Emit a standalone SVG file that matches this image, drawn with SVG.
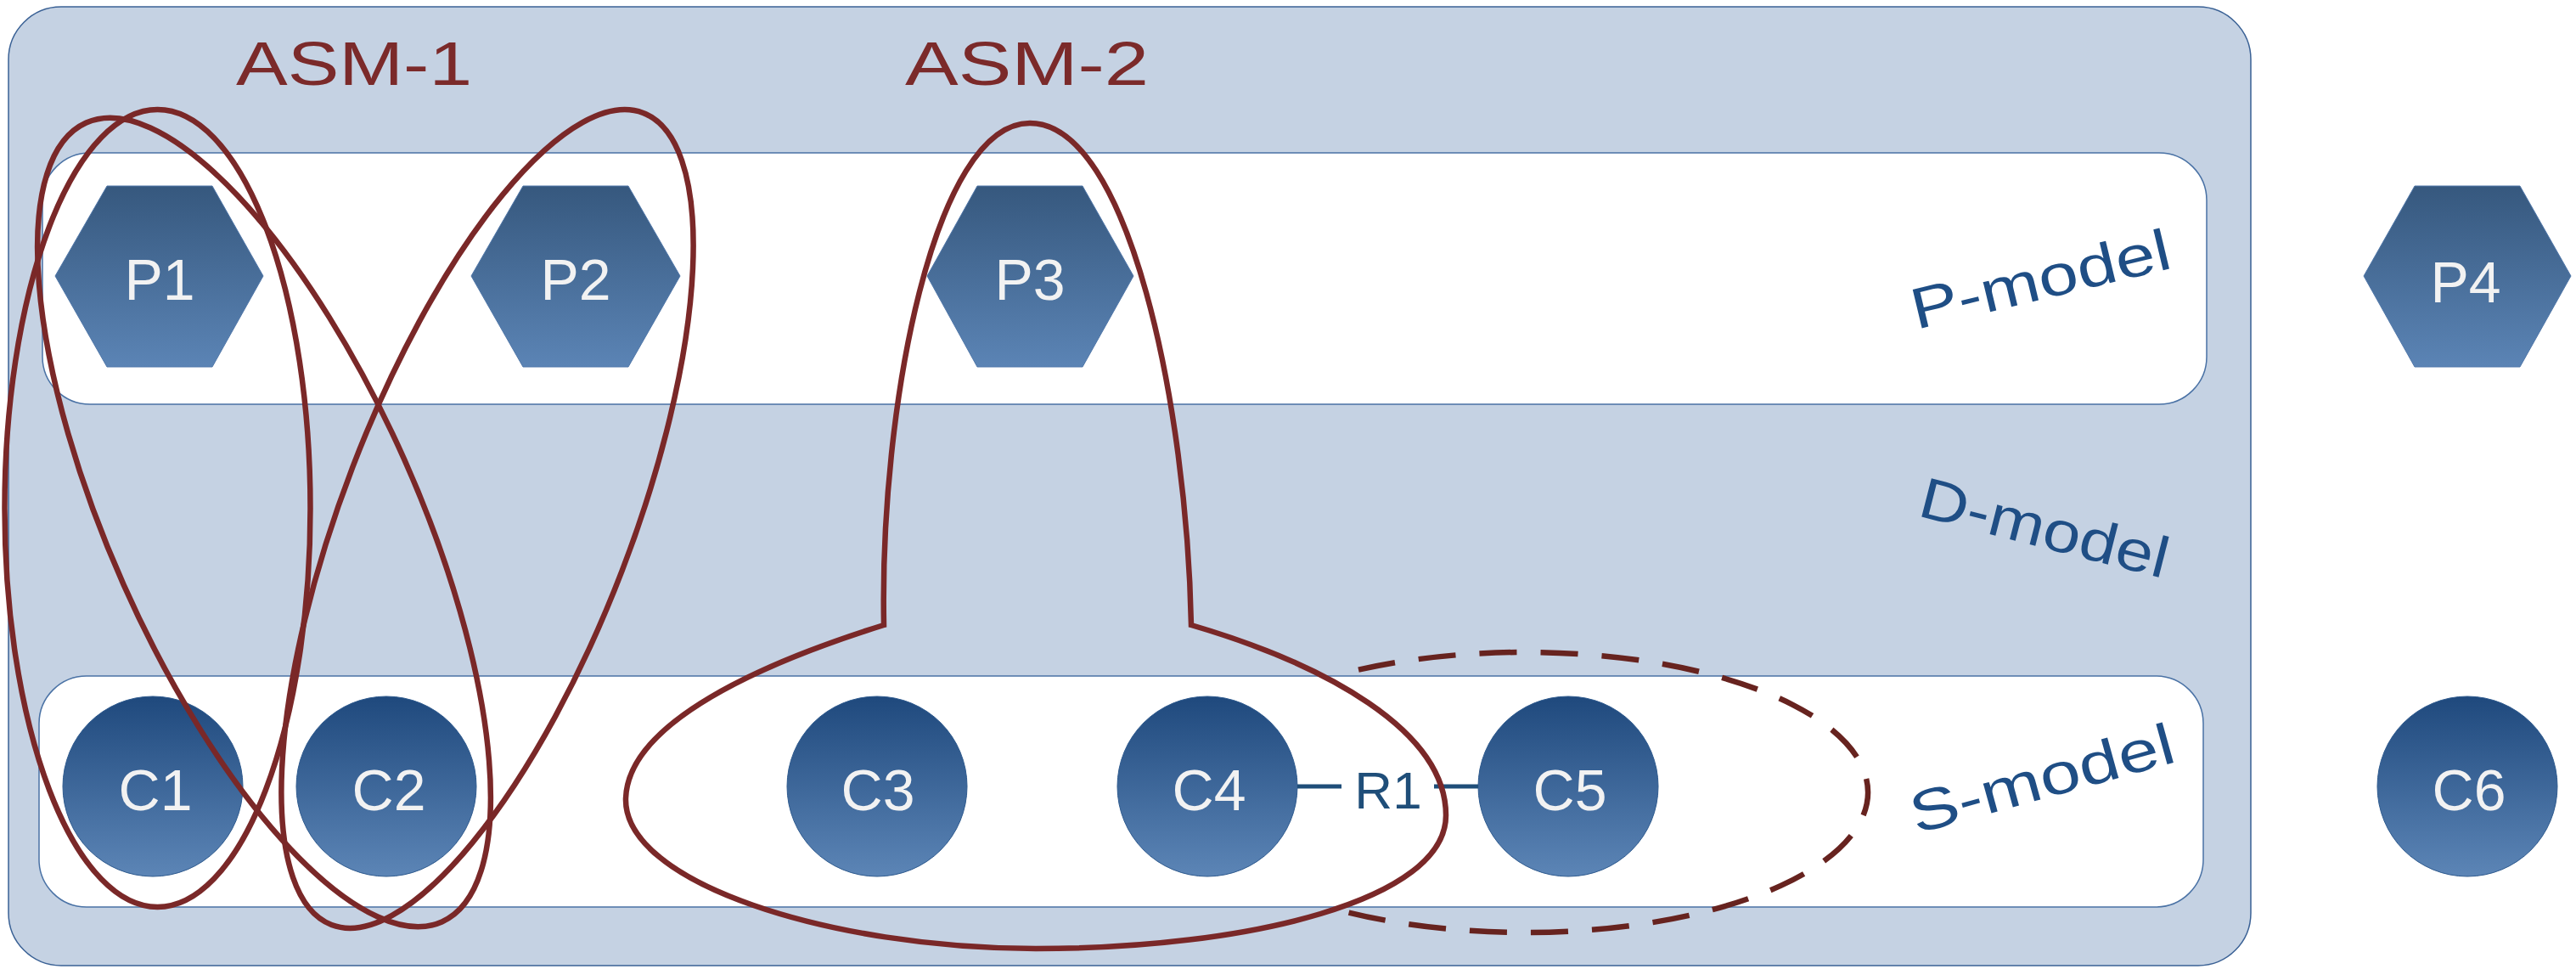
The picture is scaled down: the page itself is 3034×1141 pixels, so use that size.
<svg xmlns="http://www.w3.org/2000/svg" width="3034" height="1141" viewBox="0 0 3034 1141">
  <defs>
    <linearGradient id="gHex" x1="0" y1="0" x2="0" y2="1">
      <stop offset="0" stop-color="#36587E"/>
      <stop offset="1" stop-color="#5B84B5"/>
    </linearGradient>
    <linearGradient id="gCir" x1="0" y1="0" x2="0" y2="1">
      <stop offset="0" stop-color="#1F497D"/>
      <stop offset="1" stop-color="#5C85B6"/>
    </linearGradient>
    <style>
      .panel { fill: #C5D2E3; stroke: #3A6195; stroke-width: 1.5; }
      .band { fill: #FFFFFF; stroke: #4A72A5; stroke-width: 1.5; }
      .hex { fill: url(#gHex); stroke: #4F76A8; stroke-width: 1; }
      .cir { fill: url(#gCir); stroke: #2E5A8E; stroke-width: 1; }
      .nlabel { font-family: "Segoe Print", "Ink Free", "Liberation Sans", sans-serif; font-size: 68px; fill: #F2F2F2; text-anchor: middle; }
      .asmlabel { font-family: "Segoe Print", "Ink Free", "Liberation Sans", sans-serif; font-size: 72px; fill: #7B2A2A; }
      .model { font-family: "Segoe Print", "Ink Free", "Liberation Sans", sans-serif; font-size: 68px; fill: #1F4E85; }
      .asm { fill: none; stroke: #7A2828; stroke-width: 6.5; }
      .dash { fill: none; stroke: #67231F; stroke-width: 6.5; stroke-dasharray: 44 28; }
      .rel { stroke: #1F4E79; stroke-width: 5; fill: none; }
      .rlabel { font-family: "Segoe Print", "Ink Free", "Liberation Sans", sans-serif; font-size: 62px; fill: #1F4E79; text-anchor: middle; }
    </style>
  </defs>

  <g id="d-model">
    <rect class="panel" x="10" y="8" width="2641" height="1129" rx="62" ry="62"/>
    <text class="model" x="2257" y="607" transform="rotate(14.3 2257 607)" textLength="300" lengthAdjust="spacingAndGlyphs">D-model</text>
  </g>
  <g id="p-model">
    <rect class="band" x="50" y="180" width="2549" height="296" rx="56" ry="56"/>
    <text class="model" x="2257" y="388" transform="rotate(-13.5 2257 388)" textLength="312" lengthAdjust="spacingAndGlyphs">P-model</text>
  </g>
  <g id="s-model">
    <rect class="band" x="46" y="796" width="2549" height="272" rx="56" ry="56"/>
    <text class="model" x="2257" y="982" transform="rotate(-15.5 2257 982)" textLength="320" lengthAdjust="spacingAndGlyphs">S-model</text>
  </g>

  <g id="P1">
    <polygon class="hex" points="126,219 250,219 310,325 250,432 126,432 65,325"/>
    <text class="nlabel" x="188" y="353">P1</text>
  </g>
  <g id="P2">
    <polygon class="hex" points="616,219 740,219 801,325 740,432 616,432 555,325"/>
    <text class="nlabel" x="678" y="353">P2</text>
  </g>
  <g id="P3">
    <polygon class="hex" points="1151,219 1275,219 1335,325 1275,432 1151,432 1092,325"/>
    <text class="nlabel" x="1213" y="353">P3</text>
  </g>
  <g id="P4">
    <polygon class="hex" points="2844,219 2968,219 3028,325 2968,432 2844,432 2784,325"/>
    <text class="nlabel" x="2904" y="356">P4</text>
  </g>

  <g id="C1">
    <circle class="cir" cx="180" cy="926" r="106"/>
    <text class="nlabel" x="183" y="954">C1</text>
  </g>
  <g id="C2">
    <circle class="cir" cx="455" cy="926" r="106"/>
    <text class="nlabel" x="458" y="954">C2</text>
  </g>
  <g id="C3">
    <circle class="cir" cx="1033" cy="926" r="106"/>
    <text class="nlabel" x="1034" y="954">C3</text>
  </g>
  <g id="C4">
    <circle class="cir" cx="1422" cy="926" r="106"/>
    <text class="nlabel" x="1424" y="954">C4</text>
  </g>
  <g id="C5">
    <circle class="cir" cx="1847" cy="926" r="106"/>
    <text class="nlabel" x="1849" y="954">C5</text>
  </g>
  <g id="C6">
    <circle class="cir" cx="2906" cy="926" r="106"/>
    <text class="nlabel" x="2908" y="954">C6</text>
  </g>

  <g id="connectors">
    <g id="R1">
      <line class="rel" x1="1528" y1="926" x2="1580" y2="926"/>
      <line class="rel" x1="1689" y1="926" x2="1741" y2="926"/>
      <text class="rlabel" x="1635" y="952">R1</text>
    </g>
  </g>

  <g id="ASM-1">
    <ellipse class="asm" cx="185.5" cy="598.5" rx="180" ry="469.5"/>
    <ellipse class="asm" cx="311" cy="615" rx="181" ry="515" transform="rotate(-24 311 615)"/>
    <ellipse class="asm" cx="574" cy="611" rx="170" ry="512" transform="rotate(21 574 611)"/>
    <text class="asmlabel" x="278" y="100" textLength="278" lengthAdjust="spacingAndGlyphs">ASM-1</text>
  </g>

  <g id="ASM-2">
    <path class="asm" d="M1041,736 C900,780 740,850 737,940 C734,1040 980,1117 1220,1117 C1470,1117 1703,1060 1703,960 C1703,860 1560,782 1403,736 C1398,480 1330,145 1213,145 C1100,145 1036,480 1041,736 Z"/>
    <text class="asmlabel" x="1066" y="100" textLength="287" lengthAdjust="spacingAndGlyphs">ASM-2</text>
  </g>

  <g id="group-C4-C5">
    <path class="dash" d="M1600,788.7 A404,165 0 1 1 1582,1072.9"/>
  </g>
</svg>
